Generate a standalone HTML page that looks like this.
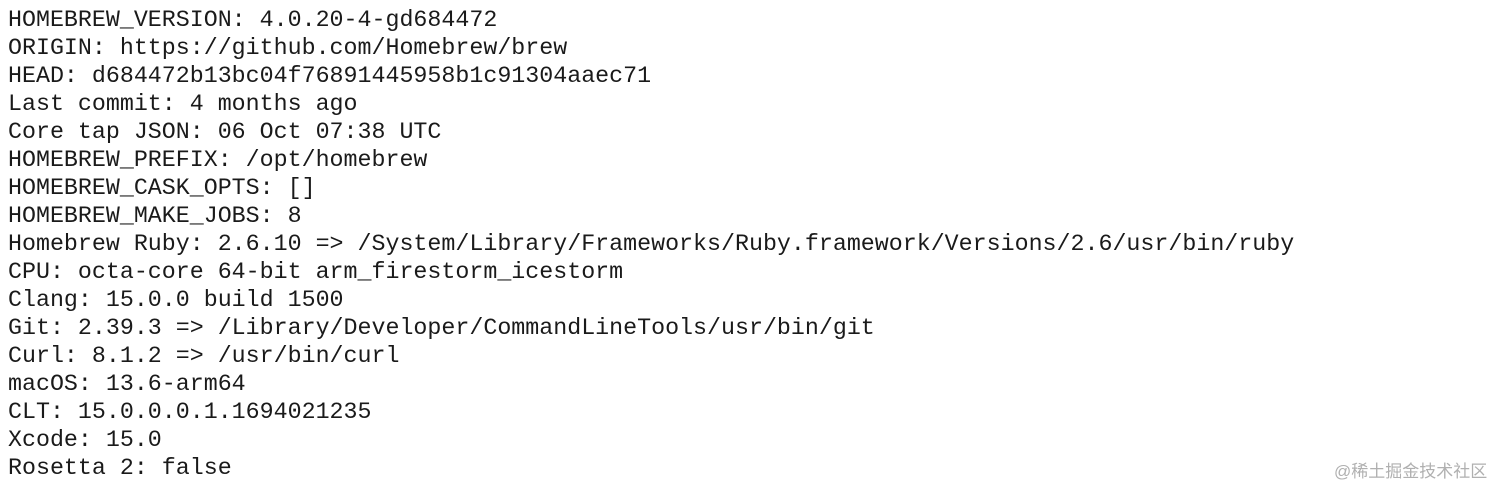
<!DOCTYPE html>
<html><head><meta charset="utf-8"><style>
html,body{margin:0;padding:0;background:#fff;width:1500px;height:484px;overflow:hidden}
pre{position:absolute;left:8px;top:6px;margin:0;font-family:"Liberation Mono",monospace;font-size:23.3px;line-height:28px;color:#1a1a1a}
.wm{position:absolute;left:1334px;top:457px;font-family:"Liberation Sans","Noto Sans CJK SC",sans-serif;font-size:17px;color:#b0b0b0;white-space:nowrap}
</style></head><body>
<pre>HOMEBREW_VERSION: 4.0.20-4-gd684472
ORIGIN: https://github.com/Homebrew/brew
HEAD: d684472b13bc04f76891445958b1c91304aaec71
Last commit: 4 months ago
Core tap JSON: 06 Oct 07:38 UTC
HOMEBREW_PREFIX: /opt/homebrew
HOMEBREW_CASK_OPTS: []
HOMEBREW_MAKE_JOBS: 8
Homebrew Ruby: 2.6.10 =&gt; /System/Library/Frameworks/Ruby.framework/Versions/2.6/usr/bin/ruby
CPU: octa-core 64-bit arm_firestorm_icestorm
Clang: 15.0.0 build 1500
Git: 2.39.3 =&gt; /Library/Developer/CommandLineTools/usr/bin/git
Curl: 8.1.2 =&gt; /usr/bin/curl
macOS: 13.6-arm64
CLT: 15.0.0.0.1.1694021235
Xcode: 15.0
Rosetta 2: false</pre>
<div class="wm">@稀土掘金技术社区</div>
</body></html>
